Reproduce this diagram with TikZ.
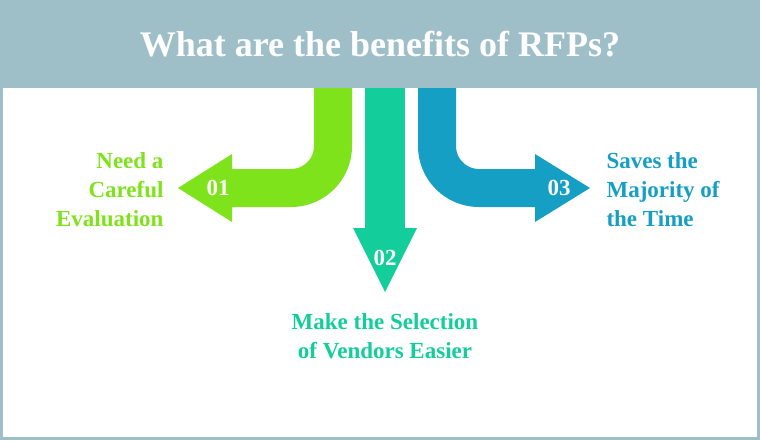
\documentclass[tikz,border=0pt]{standalone}
\usepackage{fontspec}
\setmainfont{Liberation Serif}
\definecolor{hdr}{HTML}{9FBFC8}
\definecolor{cg}{HTML}{7FE31B}
\definecolor{ct}{HTML}{13CE9A}
\definecolor{cb}{HTML}{159FC4}
\begin{document}
\begin{tikzpicture}[x=1pt,y=-1pt,
  band/.style={line width=38pt,rounded corners=42pt},
  lbl/.style={font=\bfseries\fontsize{23}{29}\selectfont,align=center},
  num/.style={font=\bfseries\fontsize{23}{27}\selectfont,text=white}]
\useasboundingbox (0,0) rectangle (760,440);
\fill[hdr] (0,0) rectangle (760,440);
\fill[white] (3,88) rectangle (757,437);
\fill[hdr] (0,0) rectangle (760,88);
\node[text=white,font=\bfseries\fontsize{36}{40}\selectfont] (title) at (380,44) {What are the benefits of RFPs?};
% arrow 1
\draw[cg,band] (333,88) -- (333,188) -- (230,188);
\fill[cg] (232,154) -- (232,222) -- (178,188) -- cycle;
\node[num] (n1) at (218,188) {01};
% arrow 2
\draw[ct,line width=40pt] (385,88) -- (385,229);
\fill[ct] (353,228) -- (417,228) -- (385,292) -- cycle;
\node[num] (n2) at (385,258) {02};
% arrow 3
\draw[cb,band] (437,88) -- (437,188) -- (537,188);
\fill[cb] (535,154) -- (535,222) -- (590,188) -- cycle;
\node[num] (n3) at (559,188) {03};
% labels
\node[lbl,text=cg,align=right,anchor=east] (l1) at (167,190) {Need a\\Careful\\Evaluation};
\node[lbl,text=ct] (l2) at (385,336) {Make the Selection\\ of Vendors Easier};
\node[lbl,text=cb,align=left,anchor=west] (l3) at (603,190) {Saves the\\Majority of\\the Time};
\end{tikzpicture}
\end{document}
